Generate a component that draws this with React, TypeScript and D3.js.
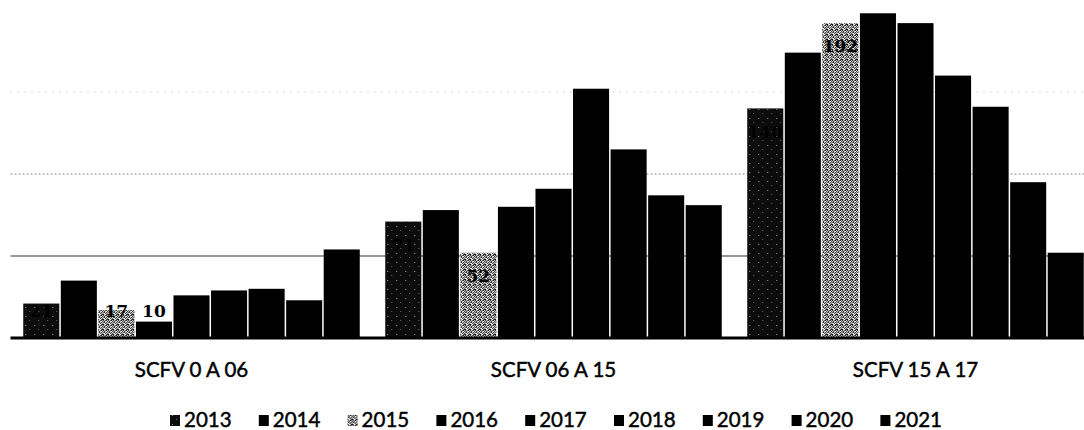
import React from "react";
import * as d3 from "d3";

const categories = ["SCFV 0 A 06", "SCFV 06 A 15", "SCFV 15 A 17"];
const years = ["2013", "2014", "2015", "2016", "2017", "2018", "2019", "2020", "2021"];
const v2013 = [21, 71, 140];
const v2014 = [35, 78, 174];
const v2015 = [17, 52, 192];
const v2016 = [10, 80, 198];
const v2017 = [26, 91, 192];
const v2018 = [29, 152, 160];
const v2019 = [30, 115, 141];
const v2020 = [23, 87, 95];
const v2021 = [54, 81, 52];
const yTicks = [50, 100, 150];

const seriesValues = [v2013, v2014, v2015, v2016, v2017, v2018, v2019, v2020, v2021];
const fills: Record<string, string> = {
  "2013": "url(#p2013)",
  "2015": "url(#p2015)",
};

const W = 1084;
const H = 430;
const baseY = 338;
const plotLeft = 10.5;
const plotRight = 1096.5;

export default function App() {
  const x0 = d3
    .scaleBand<string>()
    .domain(categories)
    .range([plotLeft, plotRight])
    .paddingInner(0.0704)
    .paddingOuter(0.0352);
  const x1 = d3
    .scaleBand<string>()
    .domain(years)
    .range([0, x0.bandwidth()])
    .paddingInner(0.04)
    .paddingOuter(0);
  const y = d3.scaleLinear().domain([0, 200]).range([baseY, baseY - 328]);

  const gridStyles = [
    { stroke: "#333", dash: "none", width: 1.2 },
    { stroke: "#888", dash: "2,2", width: 1 },
    { stroke: "#bbb", dash: "1,6", width: 1 },
  ];

  const legendStart = 170;
  const legendStep = 88.8;

  return (
    <svg
      width={W}
      height={H}
      style={{ position: "absolute", left: 0, top: 0, background: "#fff" }}
    >
      <defs>
        <pattern id="p2013" width="9" height="9" patternUnits="userSpaceOnUse">
          <rect width="9" height="9" fill="#0c0c0c" />
          <rect x="2" y="1" width="1" height="1" fill="#999" />
          <rect x="6" y="5" width="1" height="1" fill="#666" />
        </pattern>
        <pattern id="p2015" width="5" height="5" patternUnits="userSpaceOnUse">
          <rect width="5" height="5" fill="#fff" />
          <rect x="0" y="0" width="1" height="1" fill="#000" />
          <rect x="2" y="0" width="2" height="1" fill="#222" />
          <rect x="1" y="1" width="1" height="1" fill="#000" />
          <rect x="4" y="1" width="1" height="1" fill="#000" />
          <rect x="0" y="2" width="2" height="1" fill="#333" />
          <rect x="3" y="2" width="1" height="1" fill="#000" />
          <rect x="2" y="3" width="1" height="1" fill="#000" />
          <rect x="4" y="3" width="1" height="1" fill="#444" />
          <rect x="0" y="4" width="1" height="1" fill="#000" />
          <rect x="3" y="4" width="2" height="1" fill="#222" />
        </pattern>
      </defs>

      {yTicks.map((t, i) => (
        <line
          key={t}
          x1={plotLeft}
          x2={W}
          y1={y(t)}
          y2={y(t)}
          stroke={gridStyles[i].stroke}
          strokeWidth={gridStyles[i].width}
          strokeDasharray={gridStyles[i].dash}
        />
      ))}

      {categories.map((cat, ci) => (
        <g key={cat} transform={`translate(${x0(cat)},0)`}>
          {years.map((yr, si) => {
            const v = seriesValues[si][ci];
            return (
              <rect
                key={yr}
                x={x1(yr)}
                y={y(v)}
                width={x1.bandwidth()}
                height={baseY - y(v)}
                fill={fills[yr] || "#000"}
              />
            );
          })}
          {years.map((yr, si) => {
            const v = seriesValues[si][ci];
            const cy = Math.min(y(v) + 23, baseY - 27);
            return (
              <text
                key={"l" + yr}
                x={(x1(yr) as number) + x1.bandwidth() / 2}
                y={cy}
                dy="0.36em"
                textAnchor="middle"
                fontFamily="'DejaVu Serif', serif"
                fontWeight="bold"
                fontSize={17}
                fill="#000"
              >
                {v}
              </text>
            );
          })}
        </g>
      ))}

      <line x1={plotLeft} x2={W} y1={baseY} y2={baseY} stroke="#000" strokeWidth={3} />

      {categories.map((cat) => (
        <text
          key={"c" + cat}
          x={(x0(cat) as number) + x0.bandwidth() / 2}
          y={376.5}
          textAnchor="middle"
          fontFamily="Lato, sans-serif"
          fontSize={20.5}
          fill="#000"
          stroke="#000"
          strokeWidth={0.45}
        >
          {cat}
        </text>
      ))}

      {years.map((yr, i) => {
        const lx = legendStart + i * legendStep;
        return (
          <g key={"lg" + yr} transform={`translate(${lx},0)`}>
            <rect x={0} y={415} width={10} height={11} fill={fills[yr] || "#000"} />
            <text
              x={14}
              y={427}
              fontFamily="Lato, sans-serif"
              fontSize={20.5}
              fill="#000"
              stroke="#000"
              strokeWidth={0.45}
            >
              {yr}
            </text>
          </g>
        );
      })}
    </svg>
  );
}
